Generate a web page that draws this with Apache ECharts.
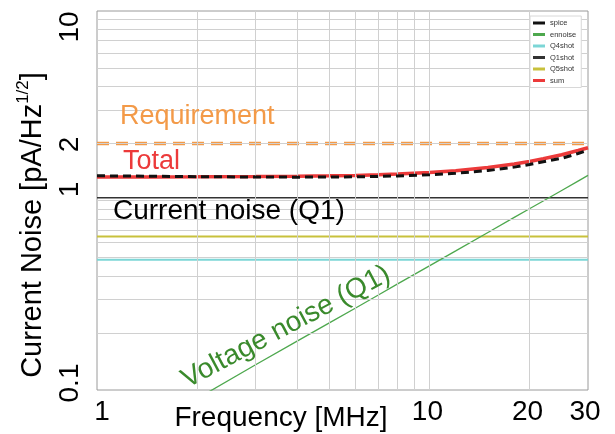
<!DOCTYPE html>
<html><head><meta charset="utf-8">
<script src="https://cdn.jsdelivr.net/npm/echarts@6/dist/echarts.min.js"></script>
<style>html,body{margin:0;padding:0;background:#fff}#c{width:615px;height:434px}</style>
</head><body><div id="c"></div>
<script>
// ---- data ----
const freq        = [1, 1.5, 2, 3, 4, 5, 6, 7, 8, 10, 12, 15, 18, 20, 22, 25, 28, 30];
const spice       = [1.350, 1.343, 1.336, 1.330, 1.328, 1.330, 1.334, 1.340, 1.347, 1.366, 1.392, 1.440, 1.500, 1.548, 1.600, 1.670, 1.770, 1.840];
const ennoise     = [0.045, 0.068, 0.090, 0.136, 0.181, 0.226, 0.271, 0.316, 0.362, 0.452, 0.542, 0.678, 0.814, 0.904, 0.994, 1.130, 1.266, 1.356];
const q4shot      = [0.487, 0.487, 0.487, 0.487, 0.487, 0.487, 0.487, 0.487, 0.487, 0.487, 0.487, 0.487, 0.487, 0.487, 0.487, 0.487, 0.487, 0.487];
const q1shot      = [1.035, 1.035, 1.035, 1.035, 1.035, 1.035, 1.035, 1.035, 1.035, 1.035, 1.035, 1.035, 1.035, 1.035, 1.035, 1.035, 1.035, 1.035];
const q5shot      = [0.645, 0.645, 0.645, 0.645, 0.645, 0.645, 0.645, 0.645, 0.645, 0.645, 0.645, 0.645, 0.645, 0.645, 0.645, 0.645, 0.645, 0.645];
const sum         = [1.331, 1.332, 1.333, 1.337, 1.342, 1.349, 1.357, 1.367, 1.378, 1.405, 1.436, 1.493, 1.559, 1.608, 1.661, 1.745, 1.836, 1.899];
const reqFreq     = [1, 30];
const requirement = [2, 2];
const xTickLabels = [1, 10, 20, 30];
const yTickLabels = [0.1, 1, 2, 10];
const xGridValues = [2, 3, 4, 5, 6, 7, 8, 9, 10, 20];
const yGridValues = [0.2, 0.3, 0.4, 0.5, 0.6, 0.7, 0.8, 0.9, 1, 2, 3, 4, 5, 6, 7, 8, 9];
const legendNames = ['spice', 'ennoise', 'Q4shot', 'Q1shot', 'Q5shot', 'sum'];

// ---- chart ----
const FONT = '"Liberation Sans", Arial, Helvetica, sans-serif';
const pairs = (xs, ys) => xs.map((x, i) => [x, ys[i]]);
const chart = echarts.init(document.getElementById('c'), null, {renderer: 'canvas'});

const lineSeries = (name, xs, ys, color, width, type, z) => ({
  name, type: 'line', data: pairs(xs, ys), symbol: 'none', showSymbol: false,
  lineStyle: {color, width, type: type || 'solid'}, itemStyle: {color}, z: z, animation: false
});

const option = {
  animation: false,
  backgroundColor: '#fff',
  grid: {left: 97, right: 27, top: 11, bottom: 44, show: true, borderColor: '#9a9a9a', borderWidth: 1},
  xAxis: {type: 'log', logBase: 10, min: 1, max: 30,
    axisLine: {show: false}, axisTick: {show: false}, axisLabel: {show: false}, splitLine: {show: false}},
  yAxis: {type: 'log', logBase: 10, min: 0.1, max: 10,
    axisLine: {show: false}, axisTick: {show: false}, axisLabel: {show: false}, splitLine: {show: false}},
  legend: {
    data: legendNames.map(n => ({name: n, icon: 'rect'})), orient: 'vertical', left: 530, top: 16,
    itemWidth: 12, itemHeight: 3, itemGap: 3.5,
    padding: [3, 5, 3, 3], borderColor: '#d8d8d8', borderWidth: 1, backgroundColor: '#fff',
    textStyle: {fontSize: 7.5, fontFamily: FONT, color: '#333', lineHeight: 8},
    selectedMode: false, z: 20
  },
  series: [
    {name: 'gridlines', type: 'line', data: [], z: 1, silent: true,
      markLine: {silent: true, symbol: 'none', animation: false, label: {show: false},
        lineStyle: {color: '#d0d0d0', width: 1, type: 'solid'},
        emphasis: {disabled: true},
        data: [...xGridValues.map(v => ({xAxis: v})), ...yGridValues.map(v => ({yAxis: v}))]}},
    lineSeries('Requirement', reqFreq, requirement, '#f39a48', 3.5, [12, 7], 3),
    lineSeries('Q4shot', freq, q4shot, '#7cd6d6', 2, 'solid', 3),
    lineSeries('Q5shot', freq, q5shot, '#c8c13c', 2, 'solid', 3),
    lineSeries('Q1shot', freq, q1shot, '#333333', 1.5, 'solid', 3),
    lineSeries('ennoise', freq, ennoise, '#4ea84e', 1.3, 'solid', 3),
    lineSeries('sum', freq, sum, '#ec3a3a', 3.5, 'solid', 4),
    lineSeries('spice', freq, spice, '#111111', 3, [8, 5], 5)
  ]
};
chart.setOption(option);

// ---- texts positioned via the chart's own scales ----
const xLabelShift = {1: 5, 10: -2, 20: -2, 30: -3};
const yLabelShift = {0.1: -7, 1: -11, 2: 1, 10: 16};
const g = [];
const T = (x, y, rotation, style) => ({type: 'text', x, y, rotation: rotation || 0, silent: true, z: 100, zlevel: 0, style});
xTickLabels.forEach(v => {
  const p = chart.convertToPixel({gridIndex: 0}, [v, 0.1]);
  g.push(T(p[0] + (xLabelShift[v] || 0), 412, 0,
    {text: String(v), font: '28px ' + FONT, fill: '#000', align: 'center', verticalAlign: 'middle'}));
});
yTickLabels.forEach(v => {
  const p = chart.convertToPixel({gridIndex: 0}, [1, v]);
  g.push(T(70, p[1] + (yLabelShift[v] || 0), Math.PI / 2,
    {text: String(v), font: '28px ' + FONT, fill: '#000', align: 'center', verticalAlign: 'middle'}));
});
g.push(T(281, 418, 0, {text: 'Frequency [MHz]', font: '28px ' + FONT, fill: '#000', align: 'center', verticalAlign: 'middle'}));
g.push(T(31, 225, Math.PI / 2, {text: '{a|Current Noise [pA/Hz}{s|1/2}{a|]}', align: 'center', verticalAlign: 'middle',
    rich: {a: {font: '29px ' + FONT, fill: '#000', lineHeight: 32, verticalAlign: 'bottom'},
           s: {font: '17px ' + FONT, fill: '#000', lineHeight: 32, verticalAlign: 'top'}}}));
g.push(T(120, 117, 0, {text: 'Requirement', font: '27px ' + FONT, fill: '#f39a48', align: 'left', verticalAlign: 'middle'}));
g.push(T(123, 162, 0, {text: 'Total', font: '27px ' + FONT, fill: '#ec3a3a', align: 'left', verticalAlign: 'middle'}));
g.push(T(113, 211, 0, {text: 'Current noise (Q1)', font: '28px ' + FONT, fill: '#000', align: 'left', verticalAlign: 'middle'}));
g.push(T(286, 327, 28 * Math.PI / 180, {text: 'Voltage noise (Q1)', font: '28px ' + FONT, fill: '#3a8a2c', align: 'center', verticalAlign: 'middle'}));
chart.setOption({graphic: {elements: g}});
</script>
</body></html>
